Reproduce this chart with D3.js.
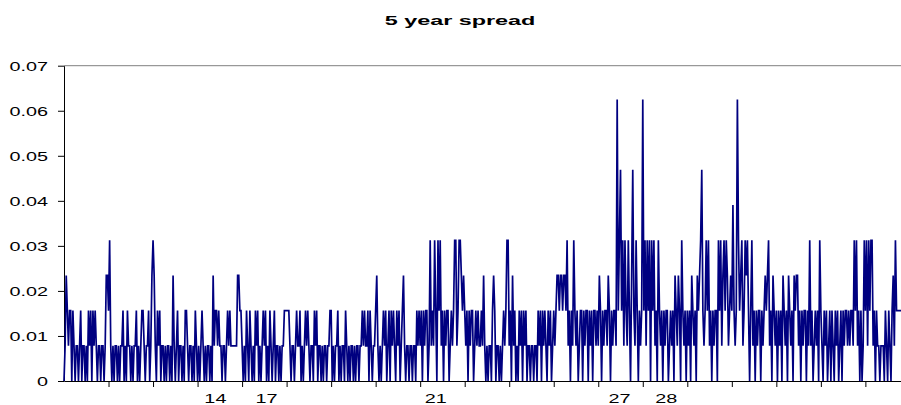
<!DOCTYPE html>
<html>
<head>
<meta charset="utf-8">
<script src="https://cdn.jsdelivr.net/npm/d3@7"></script>
<style>
body { margin: 0; background: #fff; }
text { font-family: Arial, "Liberation Sans", sans-serif; }
</style>
</head>
<body>
<svg width="901" height="405"></svg>
<script>
// spread is quoted in 1/128 steps, values below are read as number of steps
var step = 0.0078125;

var early = [0,1,3,2,1,2,2,0,2,1,0,1,1,0,1,2,0,1,1,0,1,0,2,1,2,0,2,1,2,1,0,1,1,0,1,1,0,1,3,3,
    2,4,1,0,1,0,1,1,0,1,0,1,1,2,0,1,0,2,1,1,0,1,0,1,1,2,0,1,0,1,2,2,1,0,1,1,2,0,1,3,
    4,3,1,0,2,1,2,0,1,1,0,1,0,1,1,0,1,0,3,1,0,1,2,0,1,1,0,1,0,2,2,1,0,1,1,0,1,0,2,1,
    0,1,0,1,2,1,0,1,0,1,1,0,1,0,3,1,2,2,1,2,1,1,0,1,1,0,1,2,1,2,1,1,1,1,1,1,3,3,2,2];
var middle = [1,0,1,0,2,1,0,2,1,0,1,0,2,1,2,0,1,0,1,2,1,2,0,1,0,2,1,0,1,2,0,1,1,0,1,0,1,1,2,2,
    2,2,2,1,0,1,1,0,1,2,1,1,2,0,1,0,1,2,1,2,1,0,1,1,0,2,1,2,0,1,1,0,1,0,1,1,0,1,1,2,
    2,0,1,0,1,1,2,0,1,0,1,1,0,2,1,0,1,0,1,1,0,1,0,1,1,0,1,1,2,1,2,1,1,2,0,2,1,0,1,1,
    2,3,1,0,1,0,1,2,1,2,0,1,2,0,2,1,2,1,0,2,1,2,0,1,2,3,1,0,1,1,0,1,1,0,1,1,0,2,1,2];
var late = [1,2,0,2,1,2,2,0,1,4,1,2,1,4,2,0,4,2,4,1,2,0,2,1,2,2,0,1,2,1,2,4,4,1,2,4,4,3,2,3,
    2,1,2,0,2,1,2,2,0,1,2,1,2,1,1,2,1,3,1,0,1,0,1,1,0,2,3,2,0,1,1,0,1,0,1,2,1,2,4,4,
    1,2,0,3,1,2,0,1,0,2,1,2,0,2,1,2,0,1,1,0,1,1,0,1,1,0,2,1,2,0,2,1,2,1,0,2,1,2,0,1,
    2,1,2,3,3,2,3,3,2,3,3,2,4,1,2,0,2,1,4,2,1,2,0,1,2,2,0,2,1,2,2,0,2,1,2,0,2,2,1,2];
var peaks = [1,3,2,0,2,1,2,2,1,3,2,0,2,1,2,2,1,8,2,4,6,2,4,1,4,2,1,4,2,0,3,6,2,1,4,2,0,2,1,2,
    8,2,4,1,4,2,4,0,4,2,4,1,2,0,4,2,1,2,0,2,1,2,2,0,1,2,1,2,0,3,2,1,3,2,0,4,2,1,2,0,
    2,1,2,0,3,2,1,2,0,3,2,3,4,6,2,1,2,4,2,4,1,2,0,2,1,2,2,0,4,2,4,1,3,4,2,4,3,1,2,3,
    2,5,2,1,2,8,4,2,3,4,1,2,4,3,4,2,0,2,4,1,2,0,2,1,2,2,0,2,1,2,3,2,3,4,1,2,0,3,2,1];
var tail = [2,0,2,1,2,0,3,2,1,2,0,3,2,1,2,0,3,2,3,3,1,2,0,2,1,2,2,0,2,1,4,1,2,0,1,2,1,2,0,4,
    2,1,0,2,1,2,0,1,2,0,2,1,0,2,1,2,0,1,2,0,2,1,2,2,1,2,1,2,2,1,4,2,4,1,2,0,2,0,1,4,
    2,4,1,4,2,4,4,1,2,0,2,1,1,0,1,1,1,0,2,1,0,2,1,0,2,3,1,4,2,2,2,2,2];

var yTicks = [0, 0.01, 0.02, 0.03, 0.04, 0.05, 0.06, 0.07];
var labelIdx = [136, 182, 334, 499, 541];
var labelText = ["14", "17", "21", "27", "28"];
var tickEvery = 40;

var spread = early.concat(middle, late, peaks, tail).map(function (s) { return s * step; });
var n = spread.length;

var plotLeft = 64, plotRight = 901, plotTop = 65.7, plotBottom = 381;
var stretch = 1.65;

var svg = d3.select("svg");

var x = d3.scaleLinear().domain([0, n - 1]).range([plotLeft, plotRight]);
var y = d3.scaleLinear().domain([0, 0.07]).range([plotBottom, plotTop]);

// title
svg.append("text")
    .attr("transform", "translate(460,25) scale(1.8,1)")
    .attr("text-anchor", "middle")
    .attr("font-size", 13)
    .attr("font-weight", "bold")
    .text("5 year spread");

// top border of plot area
svg.append("line")
    .attr("x1", plotLeft).attr("x2", plotRight)
    .attr("y1", y(0.07)).attr("y2", y(0.07))
    .attr("stroke", "#808080").attr("stroke-width", 1);

var yAxis = d3.axisLeft(y).tickValues(yTicks).tickSize(6).tickSizeOuter(0)
    .tickFormat(function (d) { return d === 0 ? "0" : d3.format(".2f")(d); });
var gy = svg.append("g").attr("transform", "translate(" + plotLeft + ",0)").call(yAxis);
gy.selectAll("text")
    .attr("font-size", 12)
    .attr("fill", "#000")
    .attr("x", -16 / stretch)
    .attr("dy", "0.36em")
    .attr("transform", "scale(" + stretch + ",1)");
gy.selectAll("path, line").attr("stroke", "#000");

var tickIdx = d3.range(tickEvery, n, tickEvery);
var xAxis = d3.axisBottom(x).tickValues(tickIdx).tickSize(6).tickSizeOuter(0).tickFormat("");
var gx = svg.append("g").attr("transform", "translate(0," + plotBottom + ")").call(xAxis);
gx.selectAll("path, line").attr("stroke", "#000");

// category labels sit between the ticks, like the original
labelIdx.forEach(function (idx, k) {
    svg.append("text")
        .attr("transform", "translate(" + x(idx) + ",403) scale(" + stretch + ",1)")
        .attr("text-anchor", "middle")
        .attr("font-size", 12)
        .text(labelText[k]);
});

var line = d3.line()
    .x(function (d, i) { return x(i); })
    .y(function (d) { return y(d); });

svg.append("path")
    .datum(spread)
    .attr("d", line)
    .attr("fill", "none")
    .attr("stroke", "#000080")
    .attr("stroke-width", 1.7);
</script>
</body>
</html>
